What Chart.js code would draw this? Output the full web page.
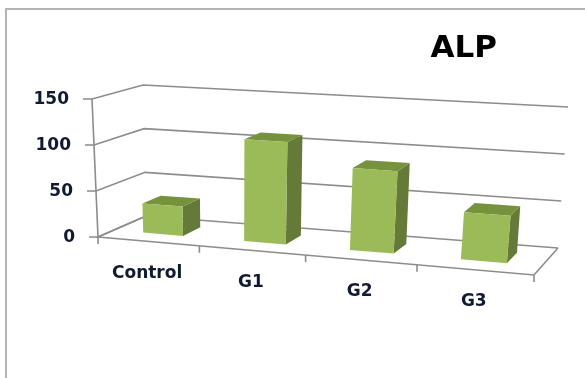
<!DOCTYPE html>
<html>
<head>
<meta charset="utf-8">
<title>ALP</title>
<script src="https://cdn.jsdelivr.net/npm/chart.js@4/dist/chart.umd.min.js"></script>
<style>
    html, body { margin: 0; background: #fff; overflow: hidden; }
    #wrap { position: relative; width: 585px; height: 378px; }
    #frame { position: absolute; left: 5px; top: 8px; right: 0; bottom: 0;
             border-left: 2px solid #b4b4b4; border-top: 2px solid #b4b4b4; }
    canvas { position: absolute; left: 0; top: 0; }
</style>
</head>
<body>
<div id="wrap">
    <div id="frame"></div>
    <canvas id="alpChart" width="585" height="378"></canvas>
</div>
<script>
const titleText = 'ALP';
const categories = ['Control', 'G1', 'G2', 'G3'];
const alpValues = [32, 110, 87, 49];
const valueTicks = [0, 50, 100, 150];

const FONT = '"DejaVu Sans", sans-serif';
const TEXT_COLOR = '#101a33';
const GRID_COLOR = '#8c8c8c';
const FACE_COLOR = '#9bbb59';
const SIDE_COLOR = '#657a38';
const TOP_COLOR = '#76923c';

// Corners of the 3D plot box on the canvas: [across, depth, height]
const BOX = {
    '000': [98, 237], '100': [534, 275], '010': [146, 216], '110': [558, 248],
    '001': [92, 99],  '101': [548, 127], '011': [143, 85],  '111': [568, 107]
};
const BAR_DEPTH_FRONT = 0.33;
const BAR_DEPTH_BACK = 0.72;
const NEAR_RIGHT = 1.1;   // right side sits closer, so category bands widen

function lerp(a, b, t) {
    return a + (b - a) * t;
}

// Project box coordinates (each 0..1) to canvas pixels
function project(u, d, v) {
    const w = u / (u + (1 - u) * NEAR_RIGHT);
    const out = [0, 0];
    [0, 1].forEach(i => {
        const front = lerp(lerp(BOX['000'][i], BOX['100'][i], w), lerp(BOX['001'][i], BOX['101'][i], w), v);
        const back = lerp(lerp(BOX['010'][i], BOX['110'][i], w), lerp(BOX['011'][i], BOX['111'][i], w), v);
        out[i] = lerp(front, back, d);
    });
    return out;
}

function strokeLine(ctx, pts) {
    ctx.beginPath();
    pts.forEach((p, i) => i ? ctx.lineTo(p[0], p[1]) : ctx.moveTo(p[0], p[1]));
    ctx.stroke();
}

function fillPoly(ctx, pts, color) {
    ctx.fillStyle = color;
    ctx.beginPath();
    pts.forEach((p, i) => i ? ctx.lineTo(p[0], p[1]) : ctx.moveTo(p[0], p[1]));
    ctx.closePath();
    ctx.fill();
}

const box3d = {
    id: 'box3d',

    // Walls, floor, ticks and axis labels go under the bars
    beforeDatasetsDraw(chart) {
        const ctx = chart.ctx;
        const area = chart.chartArea;
        const yScale = chart.scales.y;
        const xScale = chart.scales.x;
        const vOf = val => (area.bottom - yScale.getPixelForValue(val)) / area.height;

        ctx.save();
        ctx.strokeStyle = GRID_COLOR;
        ctx.lineWidth = 1.6;

        valueTicks.forEach(val => {
            const v = vOf(val);
            const p = project(0, 0, v);
            strokeLine(ctx, [[p[0] - 9, p[1]], p, project(0, 1, v), project(1, 1, v)]);
        });
        strokeLine(ctx, [project(0, 0, 0), project(0, 0, 1)]);
        strokeLine(ctx, [project(0, 1, 0), project(0, 0, 0), project(1, 0, 0), project(1, 1, 0)]);

        // Tick marks along the front edge of the floor
        for (let i = 0; i <= categories.length; i++) {
            const p = project(i / categories.length, 0, 0);
            strokeLine(ctx, [p, [p[0], p[1] + 7]]);
        }

        ctx.fillStyle = TEXT_COLOR;
        ctx.font = 'bold 17px ' + FONT;
        ctx.textAlign = 'right';
        ctx.textBaseline = 'middle';
        valueTicks.forEach(val => {
            const p = project(0, 0, vOf(val));
            ctx.fillText(String(val), p[0] - 23, p[1] + 1);
        });

        ctx.textAlign = 'center';
        categories.forEach((name, i) => {
            const u = (xScale.getPixelForValue(i) - area.left) / area.width;
            const p = project(u, 0, 0);
            ctx.fillText(name, p[0] - 1, p[1] + 32);
        });
        ctx.restore();
    },

    // Replace the flat bars with extruded boxes built from the bar elements
    beforeDatasetDraw(chart, args) {
        const ctx = chart.ctx;
        const area = chart.chartArea;
        const dF = BAR_DEPTH_FRONT;
        const dB = BAR_DEPTH_BACK;

        chart.getDatasetMeta(args.index).data.forEach(bar => {
            const u0 = (bar.x - bar.width / 2 - area.left) / area.width;
            const u1 = (bar.x + bar.width / 2 - area.left) / area.width;
            const v = (bar.base - bar.y) / area.height;

            fillPoly(ctx, [project(u1, dF, 0), project(u1, dB, 0), project(u1, dB, v), project(u1, dF, v)], SIDE_COLOR);
            fillPoly(ctx, [project(u0, dF, v), project(u1, dF, v), project(u1, dB, v), project(u0, dB, v)], TOP_COLOR);
            fillPoly(ctx, [project(u0, dF, 0), project(u1, dF, 0), project(u1, dF, v), project(u0, dF, v)], FACE_COLOR);
        });
        return false;
    }
};

new Chart(document.getElementById('alpChart'), {
    type: 'bar',
    data: {
        labels: categories,
        datasets: [{
            label: titleText,
            data: alpValues,
            backgroundColor: FACE_COLOR,
            categoryPercentage: 1,
            barPercentage: 0.4
        }]
    },
    options: {
        responsive: false,
        animation: false,
        layout: { padding: { right: 88 } },
        plugins: {
            legend: { display: false },
            tooltip: { enabled: false },
            title: {
                display: true,
                text: titleText,
                align: 'end',
                color: '#000',
                font: { family: FONT, size: 31, weight: 'bold' },
                padding: { top: 30, bottom: 0 }
            }
        },
        scales: {
            x: { display: false },
            y: {
                display: false,
                min: valueTicks[0],
                max: valueTicks[valueTicks.length - 1]
            }
        }
    },
    plugins: [box3d]
});
</script>
</body>
</html>
